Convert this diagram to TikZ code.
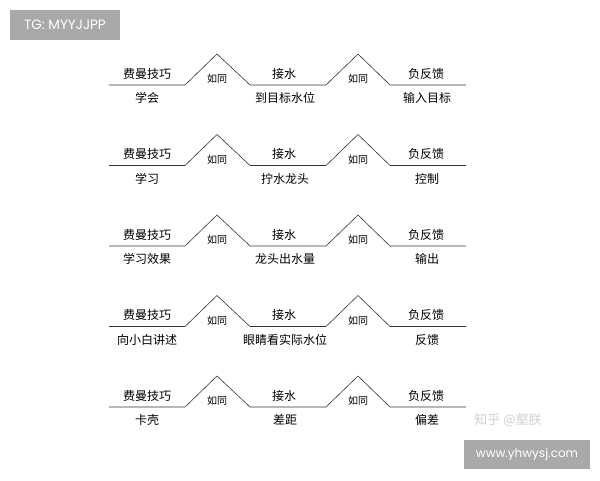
\documentclass[tikz,border=0pt]{standalone}
\usepackage{fontspec}
\setmainfont{Noto Sans CJK SC}
\newfontfamily\tagfont{Poppins}
\usetikzlibrary{positioning}
\definecolor{tagbg}{HTML}{A9A9A9}
\tikzstyle{lbl}=[inner sep=0, font=\fontsize{12}{14}\selectfont]
\tikzstyle{sm}=[inner sep=0, font=\fontsize{10}{12}\selectfont]
\tikzstyle{tag}=[fill=tagbg, text=white, inner sep=0, font=\tagfont\fontsize{12}{14}\selectfont]
\tikzstyle{zig}=[draw=black!80, line width=0.6pt]

\begin{document}
\begin{tikzpicture}[x=1pt, y=-1pt]
        \useasboundingbox[fill=white] (0,0) rectangle (600,480);
        % tags
        \node[tag, minimum width=110, minimum height=30, font=\tagfont\fontsize{13.5}{15}\selectfont] (tg) at (65,25) {TG: MYYJJPP};
        \node[tag, minimum width=126, minimum height=29] (web) at (527,454.5) {www.yhwysj.com};
        \node[sm, text=black!18, font=\fontsize{13}{15}\selectfont] (zh) at (508,420) {知乎 @壑朕};
        % rows
        \foreach \i/\a/\b/\c in {0/学会/到目标水位/输入目标,
                                 1/学习/拧水龙头/控制,
                                 2/学习效果/龙头出水量/输出,
                                 3/向小白讲述/眼睛看实际水位/反馈,
                                 4/卡壳/差距/偏差} {
            \pgfmathsetmacro{\y}{85+80.5*\i}
            \draw[zig] (109,\y) -- (185,\y) -- (217,\y-31) -- (250,\y) -- (326,\y)
                -- (358,\y-31) -- (390,\y) -- (466,\y);
            \node[lbl] (fm\i) at (147,\y-11.5) {费曼技巧};
            \node[lbl] (js\i) at (284,\y-11.5) {接水};
            \node[lbl] (ff\i) at (426,\y-11.5) {负反馈};
            \node[sm] (ra\i) at (217,\y-6) {如同};
            \node[sm] (rb\i) at (358,\y-6) {如同};
            \node[lbl] (a\i) at (147,\y+13) {\a};
            \node[lbl] (b\i) at (285,\y+13) {\b};
            \node[lbl] (c\i) at (427,\y+13) {\c};
        }
    \end{tikzpicture}
\end{document}
